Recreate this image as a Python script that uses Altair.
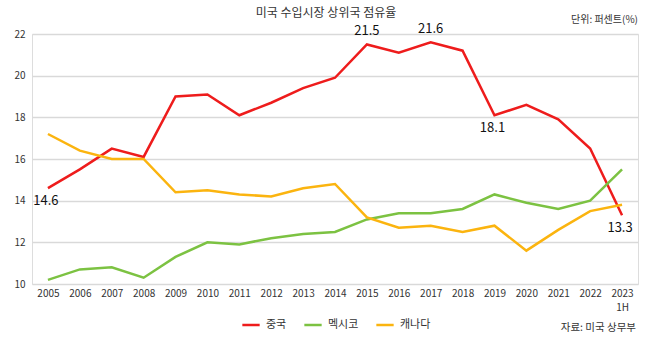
import altair as alt
import pandas as pd

years = ["2005", "2006", "2007", "2008", "2009", "2010", "2011", "2012", "2013", "2014",
         "2015", "2016", "2017", "2018", "2019", "2020", "2021", "2022", "2023"]
china = [14.6, 15.5, 16.5, 16.1, 19.0, 19.1, 18.1, 18.7, 19.4, 19.9,
         21.5, 21.1, 21.6, 21.2, 18.1, 18.6, 17.9, 16.5, 13.3]
mexico = [10.2, 10.7, 10.8, 10.3, 11.3, 12.0, 11.9, 12.2, 12.4, 12.5,
          13.1, 13.4, 13.4, 13.6, 14.3, 13.9, 13.6, 14.0, 15.5]
canada = [17.2, 16.4, 16.0, 16.0, 14.4, 14.5, 14.3, 14.2, 14.6, 14.8,
          13.2, 12.7, 12.8, 12.5, 12.8, 11.6, 12.6, 13.5, 13.8]
series_names = ["중국", "멕시코", "캐나다"]
series_colors = ["#ee1c1c", "#7cc242", "#fbb40f"]
labels_above = ["2015", "2017"]
labels_below = ["2005", "2019", "2023"]
y_ticks = [10, 12, 14, 16, 18, 20, 22]

title_text = "미국 수입시장 상위국 점유율"
unit_text = "단위: 퍼센트(%)"
source_text = "자료: 미국 상무부"

FONT = "Noto Sans CJK KR"

rows = []
for name, vals in zip(series_names, [china, mexico, canada]):
    for yr, v in zip(years, vals):
        rows.append({"year": yr, "country": name, "value": v})
df = pd.DataFrame(rows)

x_enc = alt.X(
    "year:O", sort=years, title=None,
    axis=alt.Axis(
        labelAngle=0, domain=False, ticks=False, grid=False,
        labelFontSize=10, labelColor="#333333", labelPadding=4,
        labelLineHeight=14, labelFont=FONT,
        labelExpr="datum.value == '2023' ? ['2023', '1H'] : datum.value",
    ),
)
y_enc = alt.Y(
    "value:Q", title=None,
    scale=alt.Scale(domain=[10, 22], nice=False, zero=False),
    axis=alt.Axis(
        values=y_ticks, domain=False, ticks=False, grid=True,
        gridColor="#d9d9d9", gridWidth=1.5, labelFontSize=10,
        labelColor="#333333", labelPadding=7, labelFont=FONT,
    ),
)

lines = alt.Chart(df).mark_line(strokeWidth=2.5).encode(
    x=x_enc,
    y=y_enc,
    color=alt.Color(
        "country:N", sort=series_names,
        scale=alt.Scale(domain=series_names, range=series_colors),
        legend=alt.Legend(
            title=None, orient="none", direction="horizontal",
            legendX=209, legendY=281, symbolType="stroke",
            symbolSize=300, symbolStrokeWidth=2.5, labelFontSize=11,
            labelColor="#333333", columnPadding=12, labelOffset=5,
            labelFont=FONT,
        ),
    ),
)

china_df = df[df["country"] == "중국"]
above = alt.Chart(china_df).transform_filter(
    alt.FieldOneOfPredicate(field="year", oneOf=labels_above)
).mark_text(fontSize=13, color="#111111", dy=-13, font=FONT).encode(
    x=alt.X("year:O", sort=years), y="value:Q", text=alt.Text("value:Q", format=".1f")
)
below = alt.Chart(china_df).transform_filter(
    alt.FieldOneOfPredicate(field="year", oneOf=labels_below)
).mark_text(fontSize=13, color="#111111", dy=13, dx=-2, font=FONT).encode(
    x=alt.X("year:O", sort=years), y="value:Q", text=alt.Text("value:Q", format=".1f")
)

one = alt.Data(values=[{"a": 1}])
title = alt.Chart(one).mark_text(fontSize=12, color="#333333", font=FONT, align="center", baseline="middle").encode(
    x=alt.value(294), y=alt.value(-21), text=alt.value(title_text)
)
unit = alt.Chart(one).mark_text(fontSize=10, color="#333333", font=FONT, align="right", baseline="middle").encode(
    x=alt.value(606), y=alt.value(-14), text=alt.value(unit_text)
)
source = alt.Chart(one).mark_text(fontSize=10.5, color="#333333", font=FONT, align="right", baseline="middle").encode(
    x=alt.value(604), y=alt.value(294), text=alt.value(source_text)
)

chart = alt.layer(lines, above, below, title, unit, source).properties(
    width=606, height=250,
    autosize=alt.AutoSizeParams(type="none"),
    padding={"left": 32, "top": 34, "right": 12, "bottom": 60},
).configure_view(stroke=None).configure(background="white")

chart.save("out.html", embed_options={"renderer": "svg", "actions": False})
